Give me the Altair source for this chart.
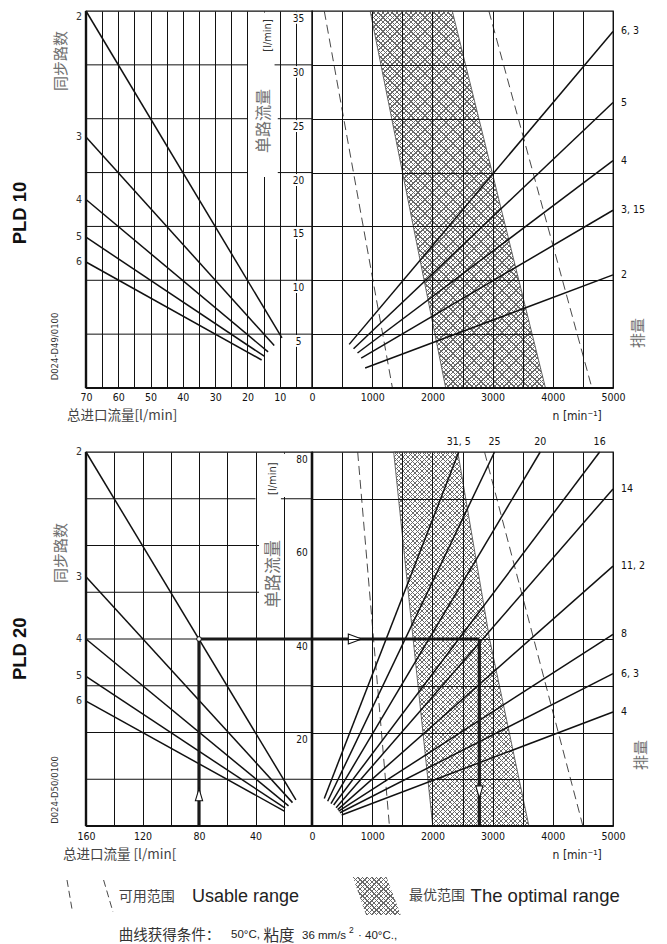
import math
import altair as alt
import pandas as pd

# ---------------- values ----------------
# PLD 10, left half: number of synchronous paths (total inlet flow -> single-path flow)
p10_paths = ["2", "3", "4", "5", "6"]
p10_total_start = [70, 70, 70, 70, 70]
p10_single_start = [35.0, 23.3, 17.5, 14.0, 11.7]
p10_total_end = [9.3, 11.7, 13.6, 14.8, 15.6]
p10_single_end = [4.65, 3.95, 3.35, 2.95, 2.6]
# PLD 10, right half: displacement lines (speed -> single-path flow)
p10_disp = ["6, 3", "5", "4", "3, 15", "2"]
p10_n_start = [618, 690, 756, 817, 883]
p10_q_start = [4.05, 3.65, 3.25, 2.78, 1.86]
p10_n_end = [5000, 5000, 5000, 5000, 5000]
p10_q_end = [33.1, 26.5, 21.1, 16.5, 10.5]
# PLD 10 usable range (dashed) and optimal range (hatched)
p10_usable_q = [35, 0]
p10_usable_lo = [204, 1336]
p10_usable_hi = [2938, 4650]
p10_opt_q = [35, 0]
p10_opt_lo = [966, 2221]
p10_opt_hi = [2330, 3878]
p10_single_ticks = [35, 30, 25, 20, 15, 10, 5]

# PLD 20
p20_paths = ["2", "3", "4", "5", "6"]
p20_total_start = [160, 160, 160, 160, 160]
p20_single_start = [80.0, 53.3, 40.0, 32.0, 26.7]
p20_total_end = [11.4, 13.8, 16.6, 19.0, 19.6]
p20_single_end = [5.6, 5.0, 4.3, 3.8, 3.2]
p20_disp = ["31, 5", "25", "20", "16", "14", "11, 2", "8", "6, 3", "4"]
p20_n_start = [204, 260, 315, 360, 400, 427, 443, 465, 493]
p20_q_start = [5.9, 5.3, 4.8, 4.5, 3.9, 3.5, 3.2, 2.84, 2.35]
p20_n_end = [2438, 3032, 3791, 4778, 5000, 5000, 5000, 5000, 5000]
p20_q_end = [80, 80, 80, 80, 72.1, 55.6, 41.0, 32.6, 24.4]
p20_usable_q = [80, 0]
p20_usable_lo = [759, 1286]
p20_usable_hi = [2866, 4500]
p20_opt_q = [80, 40, 0]
p20_opt_lo = [1357, 1680, 2006]
p20_opt_hi = [2422, 2950, 3603]
p20_single_ticks = [80, 60, 40, 20]

# worked example on PLD 20
ex_total = 80
ex_single = 40
ex_n = 2780
ex_arrow_up_single = 6.7
ex_arrow_right_n = 715
ex_arrow_down_single = 7.3

# ---------------- layout / style ----------------
NUM = "Liberation Sans Narrow, DejaVu Sans Condensed, DejaVu Sans, sans-serif"
CJK = "Noto Sans CJK SC, sans-serif"
LAT = "Liberation Sans, Arial, sans-serif"
INK = "#111111"
GRAYTXT = "#707070"
WL, WR = 226, 301
H10, H20 = 377, 374

# horizontal grid pieces of the left halves: (y, x from, x to)
TOP_HGRID = [(5, 70, 0), (10, 70, 0), (15, 70, 0), (20, 70, 20), (20, 10.6, 0),
             (25, 70, 20), (25, 10.6, 0), (30, 70, 20), (30, 11.6, 0)]
BOT_HGRID = [(10, 160, 0), (20, 160, 0), (30, 160, 0), (40, 160, 0),
             (50, 160, 37.5), (60, 160, 37.5), (70, 160, 40), (70, 22, 0)]
# white boxes behind the vertical axis title: (x a, x b, y a, y b)
TOP_BOX = (19.7, 10.3, 19.6, 34.85)
BOT_BOX = (38.0, 0.6, 70.4, 79.6)

one = pd.DataFrame({"k": [0]})


def hatch(W, H, forward, period=3.3, duty=0.3, color="#6a6a6a"):
    span = W + H
    ps = period * math.sqrt(2) / span
    k = W * span / (W * W + H * H)
    if forward:
        x1, y1, x2, y2 = 0.0, 0.0, k, k * H / W
    else:
        x1, y1, x2, y2 = 0.0, 1.0, k, 1.0 - k * H / W
    clear = "rgba(106,106,106,0)"
    stops = []
    t = 0.0
    while t < 1.0:
        a = round(t, 5)
        b = round(min(t + ps * duty, 1.0), 5)
        c = round(min(t + ps, 1.0), 5)
        stops += [alt.GradientStop(offset=a, color=color), alt.GradientStop(offset=b, color=color),
                  alt.GradientStop(offset=b, color=clear), alt.GradientStop(offset=c, color=clear)]
        t += ps
    return alt.LinearGradient(gradient="linear", stops=stops, x1=round(x1, 5), y1=round(y1, 5),
                              x2=round(x2, 5), y2=round(y2, 5))


def text_at(text, x, y, size, font=CJK, color="#222", angle=0, align="center",
            baseline="middle", weight="normal"):
    return alt.Chart(one).mark_text(text=text, font=font, fontSize=size, color=color, angle=angle,
                                    align=align, baseline=baseline, fontWeight=weight).encode(
        x=alt.value(x), y=alt.value(y))


def seg_px(x, y, x2, y2, width, color=INK, dash=None):
    kw = dict(color=color, strokeWidth=width)
    if dash:
        kw["strokeDash"] = dash
    return alt.Chart(one).mark_rule(**kw).encode(x=alt.value(x), y=alt.value(y),
                                                 x2=alt.value(x2), y2=alt.value(y2))


def xl(field, vmax, step, lstep, pad):
    return alt.X(field, type="quantitative",
                 scale=alt.Scale(domain=[0, vmax], reverse=True, nice=False, zero=False),
                 axis=alt.Axis(values=list(range(0, vmax + 1, step)), format="d",
                               labelExpr=f"datum.value % {lstep} == 0 ? datum.label : ''",
                               grid=True, gridColor=INK, gridWidth=1, ticks=False, tickSize=0,
                               domain=False, labelFont=NUM, labelFontSize=10.5, labelColor=INK,
                               labelPadding=pad, labelFlush=False, labelOverlap=False,
                               title=None, zindex=0))


def yl(field, vmax):
    return alt.Y(field, type="quantitative",
                 scale=alt.Scale(domain=[0, vmax], nice=False, zero=False), axis=None)


def xr(field, pad):
    return alt.X(field, type="quantitative",
                 scale=alt.Scale(domain=[0, 5000], nice=False, zero=False),
                 axis=alt.Axis(values=list(range(0, 5001, 500)), format="d",
                               labelExpr="datum.value >= 1000 && datum.value % 1000 == 0 ? datum.label : ''",
                               grid=True, gridColor=INK, gridWidth=1, ticks=False, tickSize=0,
                               domain=False, labelFont=NUM, labelFontSize=10.5, labelColor=INK,
                               labelPadding=pad, labelFlush=False, labelOverlap=False,
                               title=None, zindex=1))


def yr(field, vmax, grid_vals):
    return alt.Y(field, type="quantitative",
                 scale=alt.Scale(domain=[0, vmax], nice=False, zero=False),
                 axis=alt.Axis(values=grid_vals, labels=False, ticks=False, domain=False, grid=True,
                               gridColor=INK, gridWidth=1, title=None, zindex=1))


def left_panel(H, xmax, step, lstep, ymax, paths, ts, qs, te, qe, hgrid, box, ticks,
               tick_x, tick_dy, pad, top_label_top, extra):
    xf = lambda f: xl(f, xmax, step, lstep, pad)
    yf = lambda f: yl(f, ymax)
    box_df = pd.DataFrame([box], columns=["xa", "xb", "ya", "yb"])
    hg_df = pd.DataFrame(hgrid, columns=["y", "xa", "xb"])
    path_df = pd.DataFrame({"k": paths, "ts": ts, "qs": qs, "te": te, "qe": qe})
    tick_df = pd.DataFrame({"v": ticks, "t": [str(v) for v in ticks]})
    layers = [
        alt.Chart(box_df).mark_rect(color="white").encode(
            x=xf("xa"), x2=alt.X2("xb"), y=yf("ya"), y2=alt.Y2("yb")),
        alt.Chart(hg_df).mark_rule(color=INK, strokeWidth=1).encode(
            x=xf("xa"), x2=alt.X2("xb"), y=yf("y")),
        alt.Chart(path_df).mark_rule(color=INK, strokeWidth=1.5).encode(
            x=xf("ts"), x2=alt.X2("te"), y=yf("qs"), y2=alt.Y2("qe")),
        alt.Chart(tick_df).mark_text(font=NUM, fontSize=10, fill="white", stroke="white",
                                     strokeWidth=4, dy=tick_dy).encode(
            x=alt.value(tick_x), y=yf("v"), text="t:N"),
        alt.Chart(tick_df).mark_text(font=NUM, fontSize=10, color=INK, dy=tick_dy).encode(
            x=alt.value(tick_x), y=yf("v"), text="t:N"),
    ]
    if top_label_top:
        layers += [
            alt.Chart(path_df).transform_filter(f"datum.qs < {ymax}").mark_text(
                font=NUM, fontSize=10.5, color="#333", dx=-7).encode(
                x=xf("ts"), y=yf("qs"), text="k:N"),
            alt.Chart(path_df).transform_filter(f"datum.qs >= {ymax}").mark_text(
                font=NUM, fontSize=10.5, color="#333", dx=-7, baseline="top", dy=1).encode(
                x=xf("ts"), y=yf("qs"), text="k:N"),
        ]
    else:
        layers += [
            alt.Chart(path_df).mark_text(font=NUM, fontSize=10.5, color="#333", dx=-7).encode(
                x=xf("ts"), y=yf("qs"), text="k:N"),
        ]
    layers += extra(xf, yf)
    layers += [seg_px(0, 0, 0, H, 2.4), seg_px(0, H, WL, H, 2.2)]
    return alt.layer(*layers).properties(width=WL, height=H)


def right_panel(H, ymax, ygrid, disp, ns, qs, ne, qe, uq, ulo, uhi, oq, olo, ohi, pad, extra,
                duty):
    xf = lambda f: xr(f, pad)
    yf = lambda f: yr(f, ymax, ygrid)
    opt_df = pd.DataFrame({"q": oq, "lo": olo, "hi": ohi})
    wband = (max(ohi) - min(olo)) / 5000 * WR
    g1 = hatch(wband, H, True, duty=duty)
    g2 = hatch(wband, H, False, duty=duty)
    use_df = pd.DataFrame({"a": [ulo[0], uhi[0]], "b": [ulo[1], uhi[1]],
                           "qa": [uq[0], uq[0]], "qb": [uq[1], uq[1]]})
    disp_df = pd.DataFrame({"k": disp, "ns": ns, "qs": qs, "ne": ne, "qe": qe})
    layers = [
        alt.Chart(opt_df).mark_area(orient="horizontal", fill=g1, stroke="#444",
                                    strokeWidth=0.8).encode(
            y=yf("q"), x=xf("lo"), x2=alt.X2("hi")),
        alt.Chart(opt_df).mark_area(orient="horizontal", fill=g2).encode(
            y=yf("q"), x=xf("lo"), x2=alt.X2("hi")),
        alt.Chart(use_df).mark_rule(color="#333", strokeWidth=0.9, strokeDash=[9, 5]).encode(
            x=xf("a"), x2=alt.X2("b"), y=yf("qa"), y2=alt.Y2("qb")),
        alt.Chart(disp_df).mark_rule(color=INK, strokeWidth=1.5).encode(
            x=xf("ns"), x2=alt.X2("ne"), y=yf("qs"), y2=alt.Y2("qe")),
        alt.Chart(disp_df).transform_filter(f"datum.qe < {ymax}").mark_text(
            align="left", dx=8, font=NUM, fontSize=10.5, color=INK).encode(
            x=xf("ne"), y=yf("qe"), text="k:N"),
        alt.Chart(disp_df).transform_filter(f"datum.qe >= {ymax}").mark_text(
            align="center", dy=-10, font=NUM, fontSize=10.5, color=INK).encode(
            x=xf("ne"), y=yf("qe"), text="k:N"),
    ]
    layers += extra(xf, yf)
    layers += [seg_px(0, H, WR, H, 2.2)]
    return alt.layer(*layers).properties(width=WR, height=H)


UP = "M0,-1L0.6,1L-0.6,1Z"
DOWN = "M0,1L0.6,-1L-0.6,-1Z"
RIGHT = "M1,0L-1,-0.75L-1,0.75Z"
PARA = "M-1,-0.79L0.4,-0.79L0.99,0.79L-0.45,0.79Z"


def tl_extra(xf, yf):
    return [
        seg_px(-78, 100, -78, 110, 1, color="white"),
        text_at("PLD 10", -66.5, 202, 18.5, font=LAT, color=INK, angle=270, weight="bold"),
        text_at("同步路数", -25, 50, 15, color=GRAYTXT, angle=270),
        text_at("D024-D49/0100", -31.5, 335.5, 8.5, font="DejaVu Sans", color="#333", angle=270),
        text_at("总进口流量[l/min]", -19, 404.5, 13.5, color="#444", align="left"),
        text_at("[l/min]", 181.5, 24.5, 11, font=NUM, color="#333", angle=270),
        text_at("单路流量", 178, 110, 16, color=GRAYTXT, angle=270),
    ]


def bl_extra(xf, yf):
    ex_df = pd.DataFrame({"xa": [ex_total, ex_total], "xb": [ex_total, 0],
                          "ya": [0, ex_single], "yb": [ex_single, ex_single]})
    up_df = pd.DataFrame({"x": [ex_total], "y": [ex_arrow_up_single]})
    pt_df = pd.DataFrame({"x": [ex_total], "y": [ex_single]})
    return [
        alt.Chart(ex_df).mark_rule(color="#1a1a1a", strokeWidth=3.2).encode(
            x=xf("xa"), x2=alt.X2("xb"), y=yf("ya"), y2=alt.Y2("yb")),
        alt.Chart(up_df).mark_point(shape=UP, size=144, filled=True, fill="white", stroke=INK,
                                    strokeWidth=1.1, opacity=1).encode(x=xf("x"), y=yf("y")),
        alt.Chart(pt_df).mark_point(shape="circle", size=22, filled=True, fill="white",
                                    stroke=INK, strokeWidth=1, opacity=1).encode(
            x=xf("x"), y=yf("y")),
        text_at("PLD 20", -66.5, 196.7, 18.5, font=LAT, color=INK, angle=270, weight="bold"),
        text_at("同步路数", -25, 101, 15, color=GRAYTXT, angle=270),
        text_at("D024-D50/0100", -31.5, 338, 8.5, font="DejaVu Sans", color="#333", angle=270),
        text_at("总进口流量 [l/min[", -23, 402.5, 13.5, color="#444", align="left"),
        text_at("[l/min]", 186.5, 26.7, 11, font=NUM, color="#333", angle=270),
        text_at("单路流量", 188, 122, 17, color=GRAYTXT, angle=270),
        # legend
        seg_px(-19, 428, -13.5, 460, 0.9, color="#333", dash=[7, 4]),
        seg_px(17.6, 428, 27, 460, 0.9, color="#333", dash=[7, 4]),
        text_at("可用范围", 32.7, 445, 14, color="#444", align="left"),
        text_at("Usable range", 106, 445, 18, font=LAT, color="#222", align="left"),
        alt.Chart(one).mark_point(shape=PARA, size=2304, filled=True,
                                  fill=hatch(48, 38, True, duty=0.3), opacity=1).encode(
            x=alt.value(290.9), y=alt.value(444)),
        alt.Chart(one).mark_point(shape=PARA, size=2304, filled=True,
                                  fill=hatch(48, 38, False, duty=0.3), opacity=1).encode(
            x=alt.value(290.9), y=alt.value(444)),
        text_at("最优范围", 323, 444, 14, color="#444", align="left"),
        text_at("The optimal range", 384.6, 444, 18.5, font=LAT, color="#222", align="left"),
        text_at("曲线获得条件：", 32.7, 484, 14.5, color="#333", align="left"),
        text_at("50°C,", 145, 483, 11.5, font=LAT, color="#222", align="left"),
        text_at("粘度", 177.5, 484, 15.5, color="#333", align="left"),
        text_at("36 mm/s", 216, 484, 11.5, font=LAT, color="#222", align="left"),
        text_at("2", 263, 478, 8.5, font=LAT, color="#222", align="left"),
        text_at("· 40°C.,", 272, 484, 11.5, font=LAT, color="#222", align="left"),
    ]


def tr_extra(xf, yf):
    return [
        text_at("n [min⁻¹]", 289.7, 404.5, 12, font=NUM, color="#222", align="right"),
        text_at("排量", 325.5, 322, 15, color=GRAYTXT, angle=270),
    ]


def br_extra(xf, yf):
    ex_df = pd.DataFrame({"xa": [0, ex_n], "xb": [ex_n, ex_n],
                          "ya": [ex_single, ex_single], "yb": [ex_single, 0]})
    rt_df = pd.DataFrame({"x": [ex_arrow_right_n], "y": [ex_single]})
    dn_df = pd.DataFrame({"x": [ex_n], "y": [ex_arrow_down_single]})
    return [
        seg_px(0, 0, 0, H20, 2.6),
        alt.Chart(ex_df).mark_rule(color="#1a1a1a", strokeWidth=3.2).encode(
            x=xf("xa"), x2=alt.X2("xb"), y=yf("ya"), y2=alt.Y2("yb")),
        alt.Chart(rt_df).mark_point(shape=RIGHT, size=180, filled=True, fill="white", stroke=INK,
                                    strokeWidth=1.1, opacity=1).encode(x=xf("x"), y=yf("y")),
        alt.Chart(dn_df).mark_point(shape=DOWN, size=144, filled=True, fill="white", stroke=INK,
                                    strokeWidth=1.1, opacity=1).encode(x=xf("x"), y=yf("y")),
        text_at("n [min⁻¹]", 289.7, 402.5, 12, font=NUM, color="#222", align="right"),
        text_at("排量", 329, 303, 15, color=GRAYTXT, angle=270),
    ]


tl = left_panel(H10, 70, 5, 10, 35, p10_paths, p10_total_start, p10_single_start,
                p10_total_end, p10_single_end, TOP_HGRID, TOP_BOX, p10_single_ticks,
                212.5, 8, 4, True, tl_extra)
tr = right_panel(H10, 35, [5, 10, 15, 20, 25, 30], p10_disp, p10_n_start, p10_q_start,
                 p10_n_end, p10_q_end, p10_usable_q, p10_usable_lo, p10_usable_hi,
                 p10_opt_q, p10_opt_lo, p10_opt_hi, 4, tr_extra, 0.3)
bl = left_panel(H20, 160, 20, 40, 80, p20_paths, p20_total_start, p20_single_start,
                p20_total_end, p20_single_end, BOT_HGRID, BOT_BOX, p20_single_ticks,
                216, 7.5, 5, False, bl_extra)
br = right_panel(H20, 80, [10, 20, 30, 40, 70], p20_disp, p20_n_start, p20_q_start,
                 p20_n_end, p20_q_end, p20_usable_q, p20_usable_lo, p20_usable_hi,
                 p20_opt_q, p20_opt_lo, p20_opt_hi, 5, br_extra, 0.26)

chart = alt.concat(tl, tr, bl, br, columns=2, spacing={"row": 64, "column": 0},
                   bounds="flush").properties(
    padding={"left": -2, "top": 0, "right": 0, "bottom": 0}, background="white"
).configure_view(stroke=INK, strokeWidth=1.3)

chart.save("out.html", embed_options={"renderer": "svg", "actions": False})
